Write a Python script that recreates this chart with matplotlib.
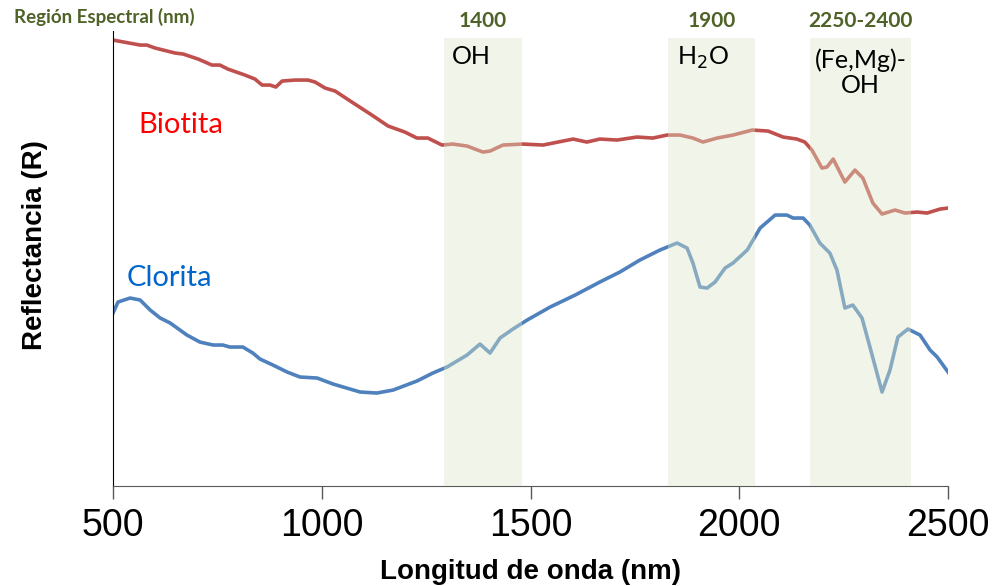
import matplotlib
matplotlib.use("Agg")
import matplotlib.pyplot as plt

# longitudes de onda (nm) y reflectancia relativa
bio_nm = [500, 565, 581, 601, 649, 668, 704, 737, 756, 775, 816, 840, 857, 876, 890,
          905, 936, 967, 984, 1008, 1032, 1072, 1120, 1159, 1199, 1228, 1254, 1288,
          1314, 1348, 1386, 1403, 1434, 1482, 1530, 1554, 1602, 1635, 1666, 1707,
          1755, 1793, 1827, 1858, 1889, 1913, 1947, 1985, 2031, 2069, 2105, 2138,
          2157, 2174, 2198, 2210, 2225, 2253, 2277, 2296, 2320, 2342, 2373, 2397,
          2426, 2450, 2481, 2500]
bio_r = [0.892, 0.882, 0.882, 0.876, 0.866, 0.864, 0.854, 0.842, 0.842, 0.834, 0.822,
         0.814, 0.802, 0.802, 0.798, 0.810, 0.812, 0.812, 0.808, 0.796, 0.790, 0.768,
         0.742, 0.720, 0.708, 0.696, 0.696, 0.682, 0.684, 0.680, 0.668, 0.670, 0.682,
         0.684, 0.682, 0.686, 0.694, 0.688, 0.694, 0.692, 0.698, 0.696, 0.702, 0.702,
         0.696, 0.688, 0.696, 0.702, 0.712, 0.710, 0.698, 0.694, 0.688, 0.672, 0.636,
         0.638, 0.654, 0.608, 0.632, 0.616, 0.566, 0.544, 0.552, 0.546, 0.548, 0.546,
         0.554, 0.556]

clo_nm = [500, 512, 541, 565, 589, 613, 637, 677, 708, 740, 763, 780, 811, 835, 852,
          883, 917, 948, 989, 1027, 1092, 1132, 1171, 1228, 1266, 1300, 1348, 1379,
          1403, 1427, 1458, 1492, 1547, 1607, 1666, 1714, 1762, 1810, 1851, 1875,
          1889, 1906, 1923, 1942, 1966, 1985, 2019, 2050, 2086, 2114, 2129, 2153,
          2169, 2193, 2217, 2234, 2253, 2272, 2294, 2313, 2342, 2361, 2380, 2404,
          2433, 2457, 2474, 2500]
clo_r = [0.346, 0.368, 0.376, 0.372, 0.352, 0.336, 0.326, 0.302, 0.288, 0.282, 0.282,
         0.278, 0.278, 0.266, 0.254, 0.242, 0.228, 0.218, 0.216, 0.204, 0.188, 0.186,
         0.192, 0.210, 0.226, 0.238, 0.262, 0.284, 0.266, 0.296, 0.314, 0.332, 0.358,
         0.382, 0.408, 0.428, 0.452, 0.472, 0.486, 0.476, 0.446, 0.398, 0.396, 0.408,
         0.436, 0.446, 0.472, 0.516, 0.542, 0.542, 0.536, 0.536, 0.522, 0.486, 0.466,
         0.432, 0.356, 0.362, 0.336, 0.278, 0.188, 0.232, 0.298, 0.314, 0.302, 0.272,
         0.258, 0.228]

# regiones espectrales
bandas = [(1293, 1480), (1829, 2038), (2169, 2411)]
banda_num = ["1400", "1900", "2250-2400"]
banda_txt = ["OH", "H$_2$O", "(Fe,Mg)-\nOH"]

verde = "#4f6228"
fig = plt.figure(figsize=(9.93, 5.86), dpi=100)
ax = fig.add_axes([0.1138, 0.1706, 0.8409, 0.7764])

ax.plot(bio_nm, bio_r, color="#c0504d", lw=2.6, solid_joinstyle="round", zorder=2)
ax.plot(clo_nm, clo_r, color="#4f81bd", lw=2.6, solid_joinstyle="round", zorder=2)

for (a, b), num, txt in zip(bandas, banda_num, banda_txt):
    ax.axvspan(a, b, ymin=0, ymax=0.985, color="#dde8c9", alpha=0.4, lw=0, zorder=3)
    ax.text((a + b) / 2, 1.0, num, transform=ax.get_xaxis_transform(), ha="center",
            va="bottom", fontsize=15, fontweight="bold", color=verde, family="Lato")

ax.text(1312, 0.860, banda_txt[0], fontsize=18, va="center", ha="left", family="Lato", zorder=4)
ax.text(1850, 0.856, banda_txt[1], fontsize=18, va="center", ha="left", family="Lato", zorder=4)
ax.text(2290, 0.827, banda_txt[2], fontsize=18, va="center", ha="center", family="Lato",
        linespacing=1.1, zorder=4)

ax.text(560, 0.722, "Biotita", color="#ff0000", fontsize=21, va="center", family="Lato")
ax.text(533, 0.416, "Clorita", color="#0066cc", fontsize=21, va="center", family="Lato")

fig.text(0.014, 0.971, "Región Espectral (nm)", fontsize=13.5, fontweight="bold",
         color=verde, va="center", ha="left", family="Lato")

ax.set_xlim(500, 2500)
ax.set_ylim(0, 0.91)
ax.set_xticks([500, 1000, 1500, 2000, 2500])
ax.set_yticks([])
ax.tick_params(axis="x", direction="out", length=9, width=1, color="#595959",
               labelsize=27, pad=7)
for lab in ax.get_xticklabels():
    lab.set_family("Liberation Sans")
ax.spines["top"].set_visible(False)
ax.spines["right"].set_visible(False)
ax.spines["left"].set_color("black")
ax.spines["bottom"].set_color("#595959")

fig.text(531 / 993, 1 - 572 / 586, "Longitud de onda (nm)", fontsize=20,
         fontweight="bold", family="Liberation Sans", ha="center", va="center")
fig.text(35 / 993, 1 - 245 / 586, "Reflectancia (R)", fontsize=20, rotation=90,
         fontweight="bold", family="Liberation Sans", ha="center", va="center")

fig.savefig("out.png", dpi=100)
